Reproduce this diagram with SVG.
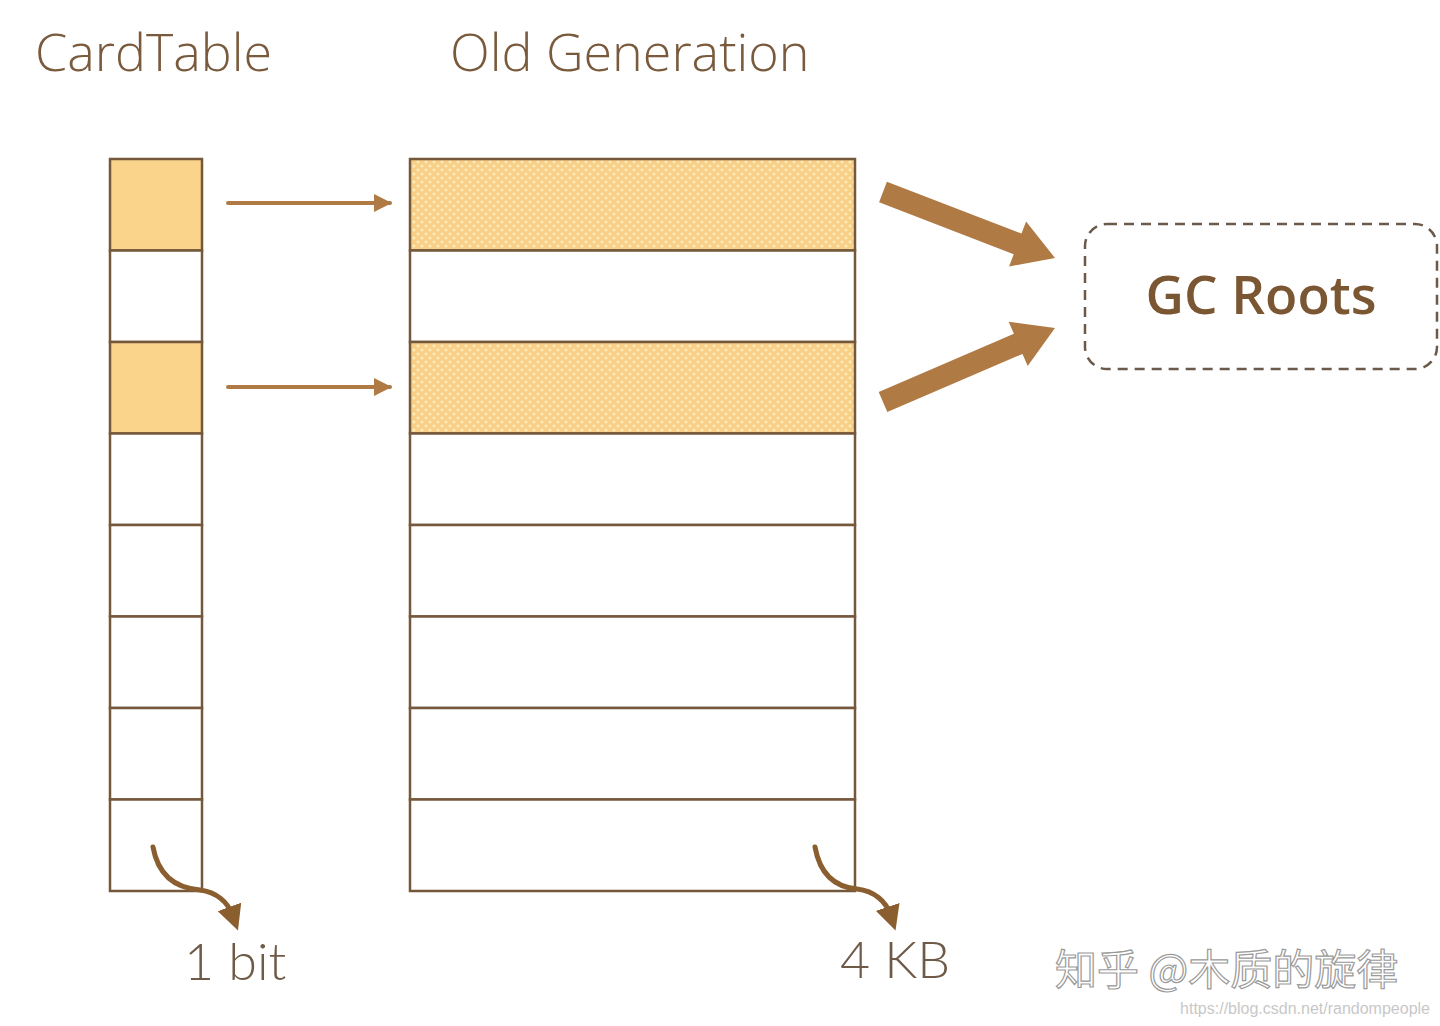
<svg xmlns="http://www.w3.org/2000/svg" width="1440" height="1026" viewBox="0 0 1440 1026">
<style>
.title{font-family:"Open Sans","Liberation Sans",sans-serif;font-weight:300;font-size:52px;fill:#7a5a3c}
.lbl{font-family:"Lato","Liberation Sans",sans-serif;font-weight:300;font-size:52px;fill:#6e5a46}
.cell{fill:#fff;stroke:#75583c;stroke-width:2.5}
.hl{fill:#f9d48a;stroke:#75583c;stroke-width:2.5}
.hlo{fill:url(#dots);stroke:#75583c;stroke-width:2.5}
.thin{stroke:#b07a45;stroke-width:4;stroke-linecap:round;fill:none}
.curve{stroke:#8b5e30;stroke-width:5;fill:none;stroke-linecap:round}
.big{fill:#b07a45}
</style>
<defs>
<pattern id="dots" width="8" height="8" patternUnits="userSpaceOnUse">
<rect width="8" height="8" fill="#f7d085"/>
<circle cx="2" cy="2" r="1.5" fill="#fde9c4"/>
<circle cx="6" cy="6" r="1.5" fill="#fde9c4"/>
</pattern>
<marker id="ah" viewBox="0 0 10 10" refX="9" refY="5" markerWidth="4.5" markerHeight="4.5" orient="auto" markerUnits="strokeWidth">
<path d="M0,0 L10,5 L0,10 Z" fill="#b07a45"/>
</marker>
<marker id="ah2" viewBox="0 0 10 10" refX="3" refY="5" markerWidth="5" markerHeight="5" orient="auto" markerUnits="strokeWidth">
<path d="M0,0 L10,5 L0,10 Z" fill="#8b5e30"/>
</marker>
</defs>
<rect width="1440" height="1026" fill="#fff"/>
<text class="title" x="35" y="71">CardTable</text>
<text class="title" x="450" y="71">Old Generation</text>
<g id="cardtable">
<rect class="hl" x="110" y="159" width="92" height="91.5"/>
<rect class="cell" x="110" y="250.5" width="92" height="91.5"/>
<rect class="hl" x="110" y="342" width="92" height="91.5"/>
<rect class="cell" x="110" y="433.5" width="92" height="91.5"/>
<rect class="cell" x="110" y="525" width="92" height="91.5"/>
<rect class="cell" x="110" y="616.5" width="92" height="91.5"/>
<rect class="cell" x="110" y="708" width="92" height="91.5"/>
<rect class="cell" x="110" y="799.5" width="92" height="91.5"/>
</g>
<g id="oldgen">
<rect class="hlo" x="410" y="159" width="445" height="91.5"/>
<rect class="cell" x="410" y="250.5" width="445" height="91.5"/>
<rect class="hlo" x="410" y="342" width="445" height="91.5"/>
<rect class="cell" x="410" y="433.5" width="445" height="91.5"/>
<rect class="cell" x="410" y="525" width="445" height="91.5"/>
<rect class="cell" x="410" y="616.5" width="445" height="91.5"/>
<rect class="cell" x="410" y="708" width="445" height="91.5"/>
<rect class="cell" x="410" y="799.5" width="445" height="91.5"/>
</g>
<g id="gcroots">
<rect x="1085" y="224" width="352" height="145" rx="22" fill="none" stroke="#6b5a4a" stroke-width="2.5" stroke-dasharray="10 7"/>
<text x="1261" y="314" text-anchor="middle" font-family="'Open Sans','Liberation Sans',sans-serif" font-weight="600" font-size="53" fill="#7a5632">GC Roots</text>
</g>
<g id="connectors">
<line class="thin" x1="228" y1="203" x2="390" y2="203" marker-end="url(#ah)"/>
<line class="thin" x1="228" y1="387" x2="390" y2="387" marker-end="url(#ah)"/>
<polygon class="big" points="886.9,181.7 1021.5,233.6 1026.1,221.4 1055,258 1009.1,266.4 1013.7,254.2 879.1,202.3"/>
<polygon class="big" points="878.7,391.9 1013.9,333.7 1008.7,321.7 1055,328 1027.7,365.9 1022.5,353.9 887.3,412.1"/>
<path class="curve" d="M153,847 C158,875 175,888 200,890 C217,892 228,903 232,914" marker-end="url(#ah2)"/>
<path class="curve" d="M815,847 C820,875 835,887 857,889 C875,891 886,902 890,914" marker-end="url(#ah2)"/>
</g>
<text class="lbl" x="184" y="980">1 bit</text>
<text class="lbl" x="840" y="978">4 KB</text>
<text x="1055" y="985" font-family="'Noto Sans CJK SC',sans-serif" font-size="42" fill="#fff" stroke="#9a9a9a" stroke-width="1.2">知乎 @木质的旋律</text>
<text x="1430" y="1014" text-anchor="end" font-family="'Liberation Sans',sans-serif" font-size="16" fill="#c8c8c8">https://blog.csdn.net/randompeople</text>
</svg>
